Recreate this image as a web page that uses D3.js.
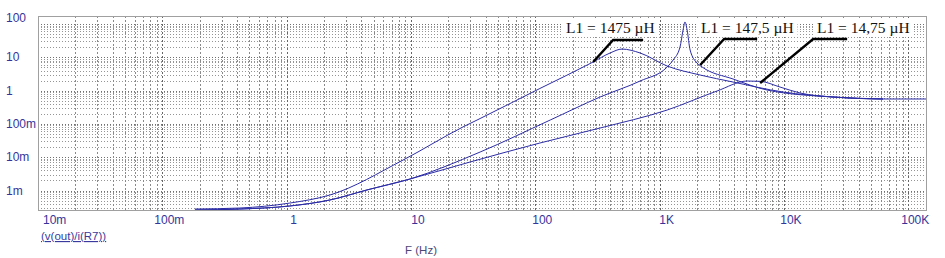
<!DOCTYPE html>
<html>
<head>
<meta charset="utf-8">
<script src="https://cdn.jsdelivr.net/npm/d3@7"></script>
<style>
  body { margin: 0; background: #fff; }
  svg { display: block; }
  .tick { font-family: "Liberation Sans", Arial, sans-serif; font-size: 12px; fill: #34349a; }
  .note { font-family: "Liberation Serif", "Times New Roman", serif; font-size: 15.5px; fill: #111; }
</style>
</head>
<body>
<div id="chart"></div>
<script>
/* (v(out)/i(R7)) against frequency, three values of L1 */

var seriesNames = ["L1 = 1475 µH", "L1 = 147,5 µH", "L1 = 14,75 µH"];

// L1 = 1475 uH
var freqA = [0.183, 0.42, 1.06, 2.23, 8.63, 26.2, 36, 109, 292, 400, 499, 697, 1150, 2120, 3900, 9860, 24900, 62800, 139000];
var magA  = [0.000278, 0.000298, 0.00042, 0.000733, 0.0082, 0.081, 0.145, 1.16, 7.22, 13.5, 17.7, 13.5, 5.48, 2.94, 1.81, 0.908, 0.642, 0.56, 0.56];

// L1 = 147,5 uH
var freqB = [0.183, 0.42, 1.06, 2.23, 4.43, 9.8, 36, 132, 332, 697, 1150, 1285, 1460, 1545, 1600, 1665, 1760, 2000, 2200, 3900, 7330, 24900, 62800];
var magB  = [0.00026, 0.000278, 0.000343, 0.00052, 0.00104, 0.00221, 0.0143, 0.131, 0.642, 1.94, 5.11, 8.29, 20.4, 66, 115, 66, 16.6, 6.74, 5.11, 2.23, 1.04, 0.642, 0.56];

// L1 = 14,75 uH
var freqC = [0.183, 0.42, 1.06, 2.23, 4.43, 9.8, 29.9, 109, 332, 1150, 2900, 5060, 6440, 9310, 13500, 24900, 62800];
var magC  = [0.00026, 0.000278, 0.000343, 0.00052, 0.00104, 0.00221, 0.00718, 0.0267, 0.0753, 0.261, 0.973, 1.94, 1.9, 1.28, 0.847, 0.642, 0.56];

// point on each trace where its label's leader starts
var noteFreq = [292, 2120, 6440];
var noteMag  = [7.22, 5.87, 1.69];

var xTickValues = [0.01, 0.1, 1, 10, 100, 1e3, 1e4, 1e5];
var xTickLabels = ["10m", "100m", "1", "10", "100", "1K", "10K", "100K"];
var yTickValues = [1e-3, 1e-2, 0.1, 1, 10, 100];
var yTickLabels = ["1m", "10m", "100m", "1", "10", "100"];

var xDomain = [0.01, 139000];
var yDomain = [0.00026, 174];

function drawChart(){

  var w = 945;
  var h = 258;
  var plot = {left: 38, right: 926, top: 16, bottom: 210};

  var svg = d3.select("#chart").append("svg")
              .attr("width", w)
              .attr("height", h);

  svg.append("rect").attr("width", w).attr("height", h).attr("fill", "#fff");

  var x = d3.scaleLog().domain(xDomain).range([plot.left, plot.right]);
  var y = d3.scaleLog().domain(yDomain).range([plot.bottom, plot.top]);

  // 1..9 in every decade
  function logSteps(lo, hi){
    var out = [];
    for (var e = Math.floor(Math.log10(lo)); e <= Math.ceil(Math.log10(hi)); e++){
      for (var k = 1; k < 10; k++){
        var v = k * Math.pow(10, e);
        if (v >= lo * 0.999 && v <= hi) out.push({v: v, major: k === 1});
      }
    }
    return out;
  }

  var grid = svg.append("g");

  grid.selectAll("line.h")
      .data(logSteps(yDomain[0], yDomain[1]))
      .enter().append("line")
      .attr("x1", plot.left).attr("x2", plot.right)
      .attr("y1", function(d){ return Math.round(y(d.v)) + 0.5; })
      .attr("y2", function(d){ return Math.round(y(d.v)) + 0.5; })
      .attr("stroke", function(d){ return d.major ? "#707070" : "#959595"; })
      .attr("stroke-dasharray", "1,2");

  grid.selectAll("line.v")
      .data(logSteps(xDomain[0], xDomain[1]))
      .enter().append("line")
      .attr("y1", plot.top).attr("y2", plot.bottom)
      .attr("x1", function(d){ return Math.round(x(d.v)) + 0.5; })
      .attr("x2", function(d){ return Math.round(x(d.v)) + 0.5; })
      .attr("stroke", function(d){ return d.major ? "#666" : "#8a8a8a"; })
      .attr("stroke-dasharray", "2,2");

  svg.append("rect")
     .attr("x", plot.left + 0.5).attr("y", plot.top + 0.5)
     .attr("width", plot.right - plot.left).attr("height", plot.bottom - plot.top)
     .attr("fill", "none").attr("stroke", "#a0a0a0");

  // traces
  svg.append("clipPath").attr("id", "clip")
     .append("rect")
     .attr("x", plot.left).attr("y", plot.top)
     .attr("width", plot.right - plot.left).attr("height", plot.bottom - plot.top);

  var line = d3.line()
               .x(function(d){ return x(d[0]); })
               .y(function(d){ return y(d[1]); })
               .curve(d3.curveMonotoneX);

  var traces = [d3.zip(freqA, magA), d3.zip(freqB, magB), d3.zip(freqC, magC)];

  svg.append("g").attr("clip-path", "url(#clip)")
     .selectAll("path")
     .data(traces)
     .enter().append("path")
     .attr("d", line)
     .attr("fill", "none")
     .attr("stroke", "#2c2ca6")
     .attr("stroke-width", 1);

  // x tick labels, sitting a little to the right of their gridline
  svg.append("g").selectAll("text")
     .data(xTickValues)
     .enter().append("text")
     .attr("class", "tick")
     .attr("y", 224)
     .attr("text-anchor", "middle")
     .text(function(d, i){ return xTickLabels[i]; })
     .attr("x", function(d){
       var half = this.getComputedTextLength() / 2;
       return Math.max(x(d) + 7, plot.left + 5 + half);
     });

  // y tick labels, left aligned at the page edge
  svg.append("g").selectAll("text")
     .data(yTickValues)
     .enter().append("text")
     .attr("class", "tick")
     .attr("x", 6)
     .attr("y", function(d){
       var cy = y(d);
       if (cy - plot.top < 10) cy = plot.top + 2;
       return cy + 4;
     })
     .text(function(d, i){ return yTickLabels[i]; });

  svg.append("text")
     .attr("class", "tick")
     .attr("x", 41).attr("y", 240)
     .style("font-size", "11.5px")
     .style("fill", "#3a3a9e")
     .style("text-decoration", "underline")
     .text("(v(out)/i(R7))");

  svg.append("text")
     .attr("class", "tick")
     .attr("x", 421).attr("y", 254)
     .attr("text-anchor", "middle")
     .style("font-size", "11.5px")
     .style("fill", "#4a4a78")
     .text("F (Hz)");

  // labels with leaders
  var noteLayout = [
    {tx: 566, elbow: [20, -22], run: 30},
    {tx: 701, elbow: [24, -26], run: 33},
    {tx: 817, elbow: [53, -44], run: 34}
  ];

  var notes = svg.append("g");

  seriesNames.forEach(function(name, i){
    var lay = noteLayout[i];
    var g = notes.append("g");
    var bg = g.append("rect").attr("fill", "#fff");
    var t = g.append("text")
             .attr("class", "note")
             .attr("x", lay.tx).attr("y", 33)
             .text(name);
    var bb = t.node().getBBox();
    bg.attr("x", bb.x - 4).attr("y", bb.y - 1)
      .attr("width", bb.width + 8).attr("height", bb.height + 2);

    var ax = x(noteFreq[i]), ay = y(noteMag[i]);
    var ex = ax + lay.elbow[0], ey = ay + lay.elbow[1];
    g.append("polyline")
     .attr("points", [[ax, ay], [ex, ey], [ex + lay.run, ey]].join(" "))
     .attr("fill", "none")
     .attr("stroke", "#000")
     .attr("stroke-width", 2.4);
  });

};

drawChart();
</script>
</body>
</html>
